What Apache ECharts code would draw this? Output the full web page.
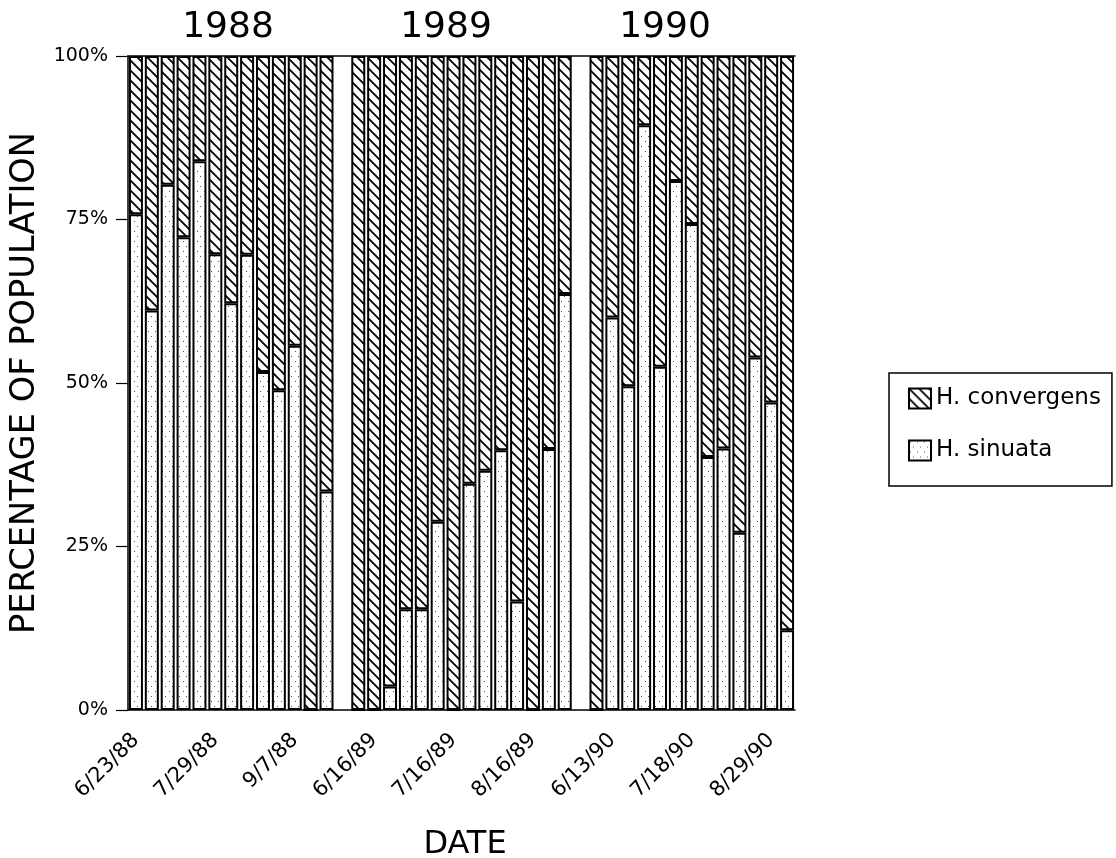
<!DOCTYPE html>
<html><head><meta charset="utf-8">
<script src="https://cdn.jsdelivr.net/npm/echarts@6/dist/echarts.min.js"></script>
<style>html,body{margin:0;padding:0;background:#fff}#c{width:1116px;height:858px}</style>
</head><body><div id="c"></div>
<script>
// ---- data ----
const yearLabels = ['1988', '1989', '1990'];
const dates1988 = ['6/23/88','','','','','7/29/88','','','','','9/7/88','',''];
const dates1989 = ['','6/16/89','','','','','7/16/89','','','','','8/16/89','',''];
const dates1990 = ['','6/13/90','','','','','7/18/90','','','','','8/29/90',''];
// H. sinuata share (%) per sampling date
const sinuata1988 = [75.8, 61.1, 80.3, 72.3, 83.9, 69.7, 62.2, 69.6, 51.7, 48.9, 55.7, 0, 33.4];
const sinuata1989 = [0, 0, 3.6, 15.4, 15.4, 28.8, 0, 34.6, 36.6, 39.7, 16.6, 0, 39.9, 63.6];
const sinuata1990 = [0, 60.0, 49.5, 89.4, 52.5, 80.9, 74.3, 38.7, 40.0, 27.1, 53.9, 47.0, 12.2];
// H. convergens share (%) per sampling date
const convergens1988 = [24.2, 38.9, 19.7, 27.7, 16.1, 30.3, 37.8, 30.4, 48.3, 51.1, 44.3, 100, 66.6];
const convergens1989 = [100, 100, 96.4, 84.6, 84.6, 71.2, 100, 65.4, 63.4, 60.3, 83.4, 100, 60.1, 36.4];
const convergens1990 = [100, 40.0, 50.5, 10.6, 47.5, 19.1, 25.7, 61.3, 60.0, 72.9, 46.1, 53.0, 87.8];
const yTicks = [0, 25, 50, 75, 100];

// one empty category separates the years
const categories = [].concat(dates1988, [''], dates1989, [''], dates1990);
const sinuata = [].concat(sinuata1988, ['-'], sinuata1989, ['-'], sinuata1990);
const convergens = [].concat(convergens1988, ['-'], convergens1989, ['-'], convergens1990);

// ---- patterns ----
function hatchCanvas() {
  const c = document.createElement('canvas'); c.width = 10; c.height = 10;
  const g = c.getContext('2d');
  g.fillStyle = '#fff'; g.fillRect(0, 0, 10, 10);
  g.strokeStyle = '#000'; g.lineWidth = 1.8; g.lineCap = 'square';
  g.beginPath();
  g.moveTo(-5, -5); g.lineTo(15, 15);
  g.moveTo(-5, 5); g.lineTo(5, 15);
  g.moveTo(5, -5); g.lineTo(15, 5);
  g.stroke();
  return c;
}
function dotCanvas() {
  const c = document.createElement('canvas'); c.width = 7; c.height = 10;
  const g = c.getContext('2d');
  g.fillStyle = '#fff'; g.fillRect(0, 0, 7, 10);
  g.fillStyle = '#555';
  g.fillRect(1, 1, 1, 1);
  g.fillRect(4, 6, 1, 1);
  return c;
}
const hatchFill = { image: hatchCanvas(), repeat: 'repeat' };
const dotFill = { image: dotCanvas(), repeat: 'repeat' };

const FONT = 'DejaVu Sans';
const chart = echarts.init(document.getElementById('c'), null, { renderer: 'canvas' });

const yearX = [228, 446, 665];
const graphics = yearLabels.map((t, i) => ({
  type: 'text', x: yearX[i], y: 28,
  style: { text: t, font: '36px "' + FONT + '"', fill: '#000', textAlign: 'center', textVerticalAlign: 'middle', align: 'center', verticalAlign: 'middle' }
}));
graphics.push({
  type: 'text', x: 465, y: 845,
  style: { text: 'DATE', font: '32px "' + FONT + '"', fill: '#000', textAlign: 'center', textVerticalAlign: 'middle', align: 'center', verticalAlign: 'middle' }
});
graphics.push({
  type: 'text', x: 25, y: 383, rotation: Math.PI / 2, scaleX: 1.02,
  style: { text: 'PERCENTAGE OF POPULATION', font: '33px "' + FONT + '"', fill: '#000', textAlign: 'center', textVerticalAlign: 'middle', align: 'center', verticalAlign: 'middle' }
});

chart.setOption({
  animation: false,
  backgroundColor: '#fff',
  textStyle: { fontFamily: FONT },
  grid: { left: 128, right: 321, top: 56, bottom: 148, containLabel: false },
  legend: {
    orient: 'vertical', left: 889, top: 373,
    data: ['H. convergens', 'H. sinuata'],
    icon: 'rect', itemWidth: 22, itemHeight: 20, itemGap: 29,
    padding: [14, 11, 24, 19],
    borderColor: '#000', borderWidth: 1.5,
    selectedMode: false,
    textStyle: { fontFamily: FONT, fontSize: 23, color: '#000' }
  },
  xAxis: [{
    type: 'category', data: categories, boundaryGap: true,
    axisLine: { onZero: false, lineStyle: { color: '#000', width: 1.5 } },
    axisTick: { alignWithLabel: true, interval: 0, length: 12, lineStyle: { color: '#000', width: 1.2 } },
    axisLabel: { interval: 0, rotate: 45, margin: 27, fontFamily: FONT, fontSize: 21, color: '#000' }
  }, {
    type: 'category', data: categories, position: 'top', boundaryGap: true,
    axisLine: { onZero: false, lineStyle: { color: '#000', width: 1.5 } },
    axisTick: { show: false }, axisLabel: { show: false }
  }],
  yAxis: {
    type: 'value', min: yTicks[0], max: yTicks[yTicks.length - 1], interval: 25,
    axisLine: { show: true, lineStyle: { color: '#000', width: 1.5 } },
    axisTick: { show: true, length: 12, lineStyle: { color: '#000', width: 1.2 } },
    axisLabel: { formatter: '{value}%', margin: 20, fontFamily: FONT, fontSize: 19, color: '#000' },
    splitLine: { show: false }
  },
  series: [{
    name: 'H. sinuata', type: 'bar', stack: 'pop', data: sinuata,
    barCategoryGap: '12%',
    itemStyle: { color: dotFill, borderColor: '#000', borderWidth: 2 }
  }, {
    name: 'H. convergens', type: 'bar', stack: 'pop', data: convergens,
    barCategoryGap: '12%',
    itemStyle: { color: hatchFill, borderColor: '#000', borderWidth: 2 }
  }],
  graphic: graphics
});
</script>
</body></html>
